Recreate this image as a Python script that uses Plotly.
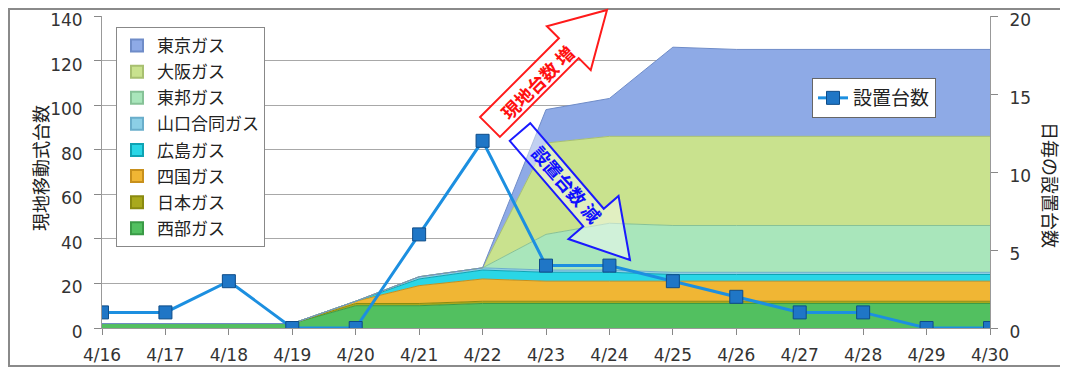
import math
import plotly.graph_objects as go

# ---------------- data ----------------
dates = ["4/16", "4/17", "4/18", "4/19", "4/20", "4/21", "4/22", "4/23",
         "4/24", "4/25", "4/26", "4/27", "4/28", "4/29", "4/30"]

seibu     = [2, 2, 2, 2, 10, 10, 11, 11, 11, 11, 11, 11, 11, 11, 11]
nihon     = [0, 0, 0, 0, 1, 1, 1, 1, 1, 1, 1, 1, 1, 1, 1]
shikoku   = [0, 0, 0, 0, 1, 8, 10, 9, 9, 9, 9, 9, 9, 9, 9]
hiroshima = [0, 0, 0, 0, 0, 3, 4, 4, 4, 3, 3, 3, 3, 3, 3]
yamaguchi = [0, 0, 0, 0, 0, 1, 1, 1, 1, 1, 1, 1, 1, 1, 1]
toho      = [0, 0, 0, 0, 0, 0, 0, 16, 21, 21, 21, 21, 21, 21, 21]
osaka     = [0, 0, 0, 0, 0, 0, 0, 41, 39, 40, 40, 40, 40, 40, 40]
tokyo     = [0, 0, 0, 0, 0, 0, 0, 15, 17, 40, 39, 39, 39, 39, 39]

installs  = [1, 1, 3, 0, 0, 6, 12, 4, 4, 3, 2, 1, 1, 0, 0]

# bottom -> top stacking order
series_names = ["西部ガス", "日本ガス", "四国ガス", "広島ガス", "山口合同ガス", "東邦ガス", "大阪ガス", "東京ガス"]
series_vals = [seibu, nihon, shikoku, hiroshima, yamaguchi, toho, osaka, tokyo]
fill_colors = ["#52c060", "#a9a91c", "#f0b634", "#2ad6e6", "#8ccfe6", "#a9e6bb", "#c9e28e", "#8eaae6"]
edge_colors = ["#3a9a46", "#8a8a10", "#c8901c", "#0fa3b3", "#6aaecb", "#86c297", "#a8c070", "#6f8cc8"]

line_name = "設置台数"
left_title = "現地移動式台数"
right_title = "日毎の設置台数"
arrow_up_text = "現地台数 増"
arrow_down_text = "設置台数 減"

# ---------------- layout geometry ----------------
OFF = 8                      # page body margin
W, H = 1068 - OFF, 368 - OFF
ML, MR, MT, MB = 94, 78, 8, 40
PW, PH = W - ML - MR, H - MT - MB


def px2paper(x, y):
    """screen pixel -> paper coordinates"""
    fx, fy = x - OFF, y - OFF
    return (fx - ML) / PW, (H - MB - fy) / PH


FONT = "Noto Sans CJK JP"
TICKFONT = "DejaVu Sans"

fig = go.Figure()

for name, vals, fc, ec in zip(series_names, series_vals, fill_colors, edge_colors):
    fig.add_trace(go.Scatter(
        x=dates, y=vals, name=name, stackgroup="gas", mode="lines",
        line=dict(color=ec, width=1), fillcolor=fc, showlegend=False,
        hoverinfo="skip"))

# legend entries (square markers like the original), top entry = top of stack
for name, fc, ec in reversed(list(zip(series_names, fill_colors, edge_colors))):
    fig.add_trace(go.Scatter(
        x=[None], y=[None], name=name, mode="markers", legendgroup=name,
        marker=dict(symbol="square", size=9, color=fc, line=dict(color=ec, width=1)),
        legend="legend"))

fig.add_trace(go.Scatter(
    x=dates, y=installs, name=line_name, yaxis="y2", mode="lines+markers",
    line=dict(color="#1c8fe0", width=3),
    marker=dict(symbol="square", size=13, color="#1f76c6", line=dict(color="#0e4c88", width=1)),
    legend="legend2"))

# ---------------- arrows ----------------
def arrow_path(tail, tip, sw, hw, hl):
    dx, dy = tip[0] - tail[0], tip[1] - tail[1]
    L = math.hypot(dx, dy)
    ux, uy = dx / L, dy / L
    nx, ny = -uy, ux
    bx, by = tip[0] - ux * hl, tip[1] - uy * hl
    pts = [
        (tail[0] + nx * sw / 2, tail[1] + ny * sw / 2),
        (bx + nx * sw / 2, by + ny * sw / 2),
        (bx + nx * hw / 2, by + ny * hw / 2),
        tip,
        (bx - nx * hw / 2, by - ny * hw / 2),
        (bx - nx * sw / 2, by - ny * sw / 2),
        (tail[0] - nx * sw / 2, tail[1] - ny * sw / 2),
    ]
    pp = [px2paper(*p) for p in pts]
    return "M " + " L ".join(f"{a:.5f},{b:.5f}" for a, b in pp) + " Z"


shapes = []
shapes.append(dict(type="path", xref="paper", yref="paper",
                   path=arrow_path((490, 127), (607, 10), 28, 62, 54),
                   line=dict(color="#ff1a1a", width=2),
                   fillcolor="rgba(255,255,255,0.75)", layer="above"))
shapes.append(dict(type="path", xref="paper", yref="paper",
                   path=arrow_path((520, 132), (630, 260), 27, 66, 56),
                   line=dict(color="#1a1aff", width=2),
                   fillcolor="rgba(255,255,255,0.45)", layer="above"))

# outer border
bx0, by0 = px2paper(9, 366)
bx1, by1 = px2paper(1090, 9)
shapes.append(dict(type="rect", xref="paper", yref="paper", x0=bx0, y0=by0, x1=bx1, y1=by1,
                   line=dict(color="#8a8a8a", width=2), fillcolor="rgba(0,0,0,0)", layer="below"))

tux, tuy = px2paper(537, 82)
tdx, tdy = px2paper(567, 184)
lx, ly = px2paper(40, 168)
rx, ry = px2paper(1051, 185)

annotations = [
    dict(text=f"<b>{arrow_up_text}</b>", x=tux, y=tuy, xref="paper", yref="paper",
         xanchor="center", yanchor="middle",
         showarrow=False, textangle=-45, font=dict(family=FONT, size=18, color="#ff1010")),
    dict(text=f"<b>{arrow_down_text}</b>", x=tdx, y=tdy, xref="paper", yref="paper",
         xanchor="center", yanchor="middle",
         showarrow=False, textangle=49, font=dict(family=FONT, size=18, color="#1010ff")),
    dict(text=left_title, x=lx, y=ly, xref="paper", yref="paper", showarrow=False,
         xanchor="center", yanchor="middle",
         textangle=-90, font=dict(family=FONT, size=18, color="#222")),
    dict(text=right_title, x=rx, y=ry, xref="paper", yref="paper", showarrow=False,
         xanchor="center", yanchor="middle",
         textangle=90, font=dict(family=FONT, size=18, color="#222")),
]

lg1x, lg1y = px2paper(116, 27)
lg2x, lg2y = px2paper(812, 78)

fig.update_layout(
    width=W, height=H,
    margin=dict(l=ML, r=MR, t=MT, b=MB, autoexpand=False),
    paper_bgcolor="white", plot_bgcolor="white",
    font=dict(family=FONT, size=17, color="#222"),
    xaxis=dict(type="category", range=[0, len(dates) - 1], showgrid=False,
               ticks="outside", ticklen=6, tickcolor="#888", showline=True,
               linecolor="#999", linewidth=1,
               tickfont=dict(family=TICKFONT, size=17, color="#333"),
               ticklabelstandoff=6, automargin=False, ticklabeloverflow="allow"),
    yaxis=dict(range=[0, 140], dtick=20, showgrid=True, gridcolor="#a8a8a8", gridwidth=1,
               zeroline=False, ticks="outside", ticklen=7, tickcolor="#888",
               showline=True, linecolor="#999", ticklabelstandoff=8, ticklabelshift=4,
               tickfont=dict(family=TICKFONT, size=17, color="#333"), automargin=False,
               ticklabeloverflow="allow"),
    yaxis2=dict(range=[0, 20], dtick=5, overlaying="y", side="right", showgrid=False,
                zeroline=False, ticks="outside", ticklen=7, tickcolor="#888",
                showline=True, linecolor="#999", ticklabelstandoff=8, ticklabelshift=4,
                tickfont=dict(family=TICKFONT, size=17, color="#333"), automargin=False,
                ticklabeloverflow="allow"),
    legend=dict(x=lg1x, y=lg1y, xanchor="left", yanchor="top", bgcolor="white",
                bordercolor="#888", borderwidth=1, font=dict(family=FONT, size=17),
                tracegroupgap=1, itemsizing="constant", itemwidth=30,
                traceorder="grouped"),
    legend2=dict(x=lg2x, y=lg2y, xanchor="left", yanchor="top", bgcolor="white",
                 bordercolor="#666", borderwidth=1, font=dict(family=FONT, size=19)),
    shapes=shapes,
    annotations=annotations,
    showlegend=True,
)

fig.write_html("out.html")
